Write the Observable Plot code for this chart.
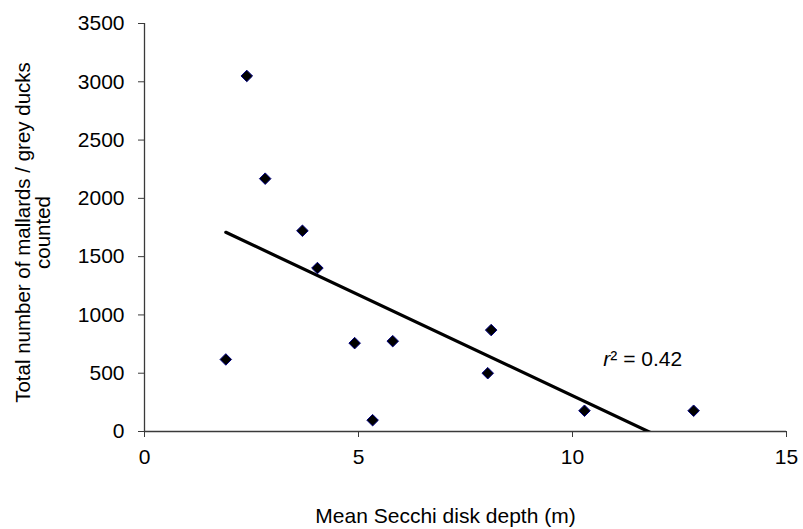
<!DOCTYPE html>
<html>
<head>
<meta charset="utf-8">
<script src="https://cdn.jsdelivr.net/npm/d3@7"></script>
<script src="https://cdn.jsdelivr.net/npm/@observablehq/plot@0.6"></script>
<style>
  html, body { margin: 0; padding: 0; background: #fff; }
  #chart svg { display: block; }
</style>
</head>
<body>
<div id="chart"></div>
<script>
// Mean Secchi disk depth (m) for each site
const secchiDepth = [1.90, 2.39, 2.82, 3.69, 4.04, 4.91, 5.33, 5.80, 8.02, 8.10, 10.28, 12.83];
// Total number of mallards / grey ducks counted at each site
const duckCount   = [618, 3050, 2169, 1722, 1402, 758, 97, 775, 500, 870, 178, 178];

const xTicks = [0, 5, 10, 15];
const yTicks = [0, 500, 1000, 1500, 2000, 2500, 3000, 3500];

const xTitle = "Mean Secchi disk depth (m)";
const yTitle = "Total number of mallards / grey ducks\ncounted";
const r2Label = "r² = 0.42";

const data = secchiDepth.map((x, i) => ({x, y: duckCount[i]}));

const axisColor = "#3a3a3a";

const chart = Plot.plot({
  width: 803,
  height: 529,
  marginTop: 23,
  marginBottom: 98,
  marginLeft: 144,
  marginRight: 17,
  style: {
    fontFamily: "'Liberation Sans', Arial, sans-serif",
    fontSize: "21px",
    background: "#fff",
    color: "#000",
    overflow: "visible"
  },
  x: {domain: [0, 15]},
  y: {domain: [0, 3500]},
  marks: [
    Plot.axisX({ticks: xTicks, tickSize: 6, tickPadding: 12, tickFormat: "d", label: null, stroke: axisColor, fill: "#000"}),
    Plot.axisY({ticks: yTicks, tickSize: 6, tickPadding: 14, tickFormat: "d", label: null, stroke: axisColor, fill: "#000"}),
    Plot.ruleY([0], {stroke: axisColor, strokeWidth: 1.3}),
    Plot.ruleX([0], {stroke: axisColor, strokeWidth: 1.3}),
    Plot.linearRegressionY(data, {x: "x", y: "y", ci: 0, stroke: "#000", strokeWidth: 3.2, clip: true}),
    Plot.dot(data, {x: "x", y: "y", symbol: "diamond2", r: 5.2, fill: "#000", stroke: "#000080", strokeWidth: 1}),
    Plot.text([r2Label], {x: 10.72, y: 620, text: d => d, textAnchor: "start", fontSize: 21, fill: "#000"}),
    Plot.text([yTitle], {frameAnchor: "left", text: d => d, rotate: -90, dx: -111, dy: 5, textAnchor: "middle", lineAnchor: "middle", fontSize: 20.5, fill: "#000"}),
    Plot.text([xTitle], {frameAnchor: "bottom", text: d => d, dx: -20, dy: 85, textAnchor: "middle", lineAnchor: "middle", fontSize: 21, fill: "#000"})
  ]
});

// italic r in the r² annotation
chart.querySelectorAll("text").forEach(t => {
  if (t.textContent === r2Label) {
    t.textContent = "";
    const ns = "http://www.w3.org/2000/svg";
    const a = document.createElementNS(ns, "tspan");
    a.setAttribute("font-style", "italic");
    a.textContent = "r";
    const b = document.createElementNS(ns, "tspan");
    b.textContent = r2Label.slice(1);
    t.appendChild(a);
    t.appendChild(b);
  }
});

document.getElementById("chart").appendChild(chart);
</script>
</body>
</html>
